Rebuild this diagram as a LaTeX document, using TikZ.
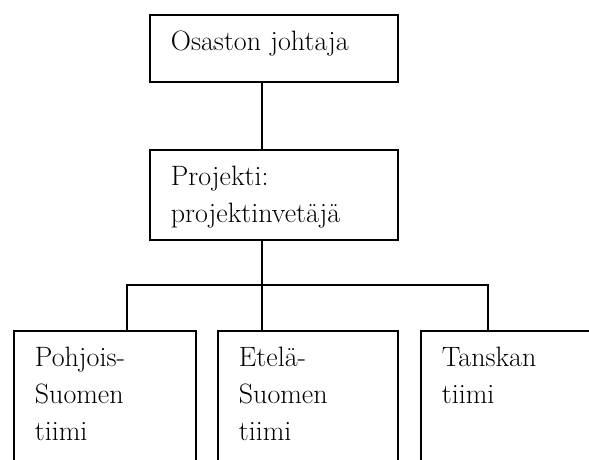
\documentclass[tikz,border=0pt]{standalone}
\usepackage{fontspec}
\usepackage{tikz}

\tikzset{
  orgbox/.style={draw, line width=1.8pt, anchor=north west, align=left,
    inner xsep=21pt, inner ysep=16.6pt, text height=19.4pt,
    font=\fontsize{28}{37}\selectfont},
  orgline/.style={line width=1.8pt}
}

\begin{document}
\begin{tikzpicture}[x=1pt,y=-1pt]
   \useasboundingbox (0,0) rectangle (589,459);
   \clip (0,0) rectangle (589,459);

   % upper levels
   \node[orgbox, text width=206pt, text depth=14.4pt] (head) at (149,14) {Osaston johtaja};
   \node[orgbox, text width=206pt, text depth=37.4pt] (lead) at (149,149) {Projekti:\\projektinvetäjä};

   % teams
   \node[orgbox, text width=140pt, text depth=97.4pt] (pohjois) at (13,330) {Pohjois-\\Suomen\\tiimi};
   \node[orgbox, text width=138pt, text depth=97.4pt] (etela) at (217,330) {Etelä-\\Suomen\\tiimi};
   \node[orgbox, text width=138pt, text depth=97.4pt] (tanska) at (420,330) {Tanskan\\tiimi};

   \coordinate (trunk) at (262,285);
   \coordinate (busL) at (127,285);
   \coordinate (busR) at (488,285);

   \draw[orgline] (head.south -| trunk) -- (lead.north -| trunk);
   \draw[orgline] (lead.south -| trunk) -- (trunk);
   \draw[orgline] (pohjois.north -| busL) -- (busL) -- (busR) -- (tanska.north -| busR);
   \draw[orgline] (trunk) -- (etela.north -| trunk);
 \end{tikzpicture}
\end{document}
